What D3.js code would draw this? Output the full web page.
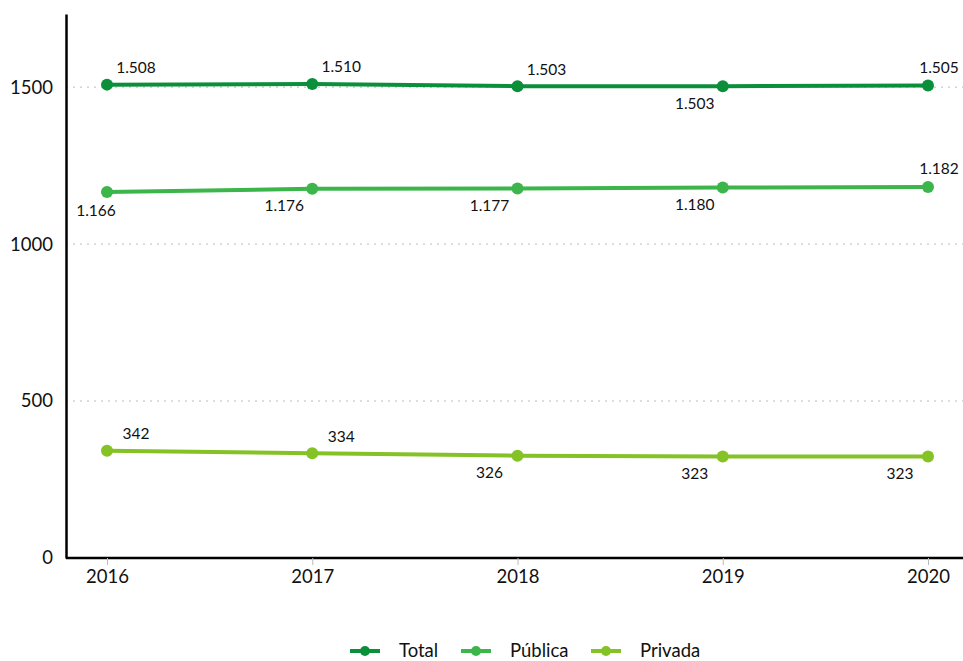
<!DOCTYPE html>
<html><head><meta charset="utf-8">
<script src="https://cdn.jsdelivr.net/npm/d3@7"></script>
<style>body{margin:0;background:#fff;}svg{display:block;font-family:Lato,"Open Sans",sans-serif;}</style>
</head><body><svg id="c" width="963" height="661"></svg>
<script>
const years = ["2016","2017","2018","2019","2020"];
const total = [1508,1510,1503,1503,1505];
const publica = [1166,1176,1177,1180,1182];
const privada = [342,334,326,323,323];
const totalLabels = ["1.508","1.510","1.503","1.503","1.505"];
const publicaLabels = ["1.166","1.176","1.177","1.180","1.182"];
const privadaLabels = ["342","334","326","323","323"];
const yTicks = [0,500,1000,1500];
const seriesNames = ["Total","Pública","Privada"];
const seriesColors = ["#0b8f3b","#3cb64a","#84c226"];
// label placements: ur = up-right, dl = down-left, u = up, d = down
const totalPlace = ["ur","ur","ur","dl","u"];
const publicaPlace = ["d","dl","dl","dl","u"];
const privadaPlace = ["ur","ur","dl","dl","dl"];

const svg = d3.select("#c");
const x = d3.scalePoint().domain(years).range([107,928]);
const y = d3.scaleLinear().domain([0,1733]).range([558,14]);

// gridlines
svg.append("g").selectAll("line").data(yTicks.filter(d=>d>0)).join("line")
  .attr("x1",66).attr("x2",963).attr("y1",d=>y(d)).attr("y2",d=>y(d))
  .attr("stroke","#bbb").attr("stroke-width",1).attr("stroke-dasharray","2,5");

// y axis
const ya = svg.append("g").attr("transform","translate(66,0)")
  .call(d3.axisLeft(y).tickValues(yTicks).tickSize(0).tickPadding(13).tickFormat(d3.format("d")));
ya.select(".domain").attr("stroke","#000").attr("stroke-width",2.5);
ya.selectAll("text").attr("font-size",18.5).attr("fill","#111").attr("font-family","Lato,sans-serif");

// x axis
const xa = svg.append("g").attr("transform","translate(0,558)")
  .call(d3.axisBottom(x).tickSize(7).tickPadding(5).tickSizeOuter(0));
xa.select(".domain").attr("d","M66,0H963").attr("stroke","#000").attr("stroke-width",2.5);
xa.selectAll(".tick line").attr("stroke","#bbb");
xa.selectAll("text").attr("font-size",18.5).attr("fill","#111").attr("font-family","Lato,sans-serif");

const series = [
  {vals:total, labels:totalLabels, place:totalPlace},
  {vals:publica, labels:publicaLabels, place:publicaPlace},
  {vals:privada, labels:privadaLabels, place:privadaPlace}
];
const line = d3.line().x((d,i)=>x(years[i])).y(d=>y(d));
const off = {ur:[29,-17], dl:[-28,17], u:[11,-18], d:[-11,19]};
series.forEach((s,k)=>{
  const g = svg.append("g");
  g.append("path").attr("d",line(s.vals)).attr("fill","none")
    .attr("stroke",seriesColors[k]).attr("stroke-width",4);
  g.selectAll("circle").data(s.vals).join("circle")
    .attr("cx",(d,i)=>x(years[i])).attr("cy",d=>y(d)).attr("r",6).attr("fill",seriesColors[k]);
  g.selectAll("text").data(s.vals).join("text")
    .attr("x",(d,i)=>x(years[i])+off[s.place[i]][0])
    .attr("y",(d,i)=>y(d)+off[s.place[i]][1])
    .attr("dy","0.35em").attr("text-anchor","middle")
    .attr("font-size",15.5).attr("fill","#111")
    .text((d,i)=>s.labels[i]);
});

// legend
const lg = svg.append("g");
const legX = [350,461,591];
seriesNames.forEach((n,k)=>{
  const gg = lg.append("g").attr("transform",`translate(${legX[k]},651)`);
  gg.append("line").attr("x1",0).attr("x2",30).attr("stroke",seriesColors[k]).attr("stroke-width",4);
  gg.append("circle").attr("cx",15).attr("r",5).attr("fill",seriesColors[k]);
  gg.append("text").attr("x",49).attr("dy","0.35em").attr("font-size",18.5).attr("fill","#111").text(n);
});
</script></body></html>
